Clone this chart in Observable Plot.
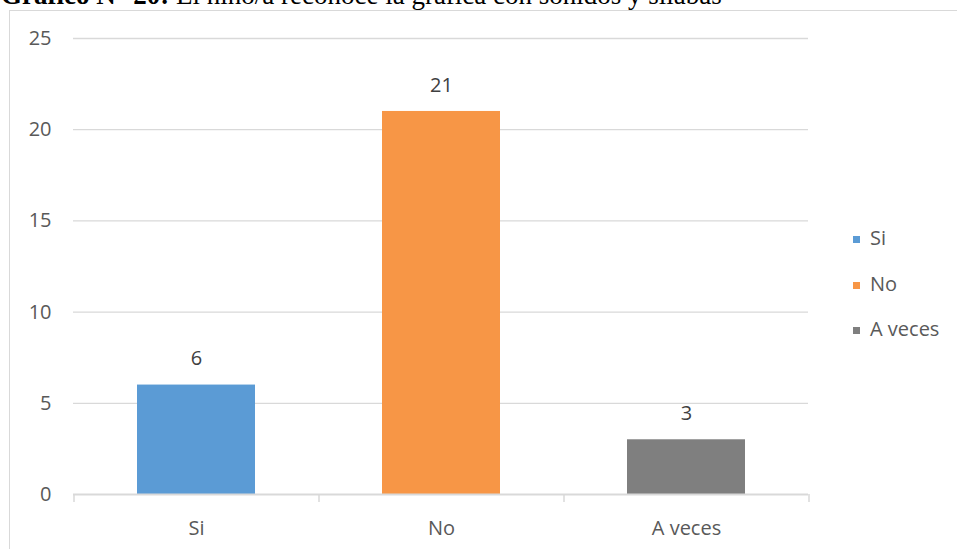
<!DOCTYPE html>
<html>
<head>
<meta charset="utf-8">
<script src="https://cdn.jsdelivr.net/npm/d3@7"></script>
<script src="https://cdn.jsdelivr.net/npm/@observablehq/plot@0.6"></script>
<style>
  html, body { margin: 0; padding: 0; background: #fff; overflow: hidden; }
  #wrap { position: relative; width: 957px; height: 549px; overflow: hidden; }
  #title { position: absolute; left: 1px; top: -18px; font-family: "Liberation Serif", "Times New Roman", serif; font-size: 27px; line-height: 27px; white-space: nowrap; color: #000; }
  #frame { position: absolute; left: 9px; top: 10px; width: 1200px; height: 800px; border-left: 1.5px solid #d9d9d9; border-top: 1.5px solid #d9d9d9; }
  #chart { position: absolute; left: 0; top: 0; }
  .leg { position: absolute; left: 853px; font-family: "Open Sans", sans-serif; font-size: 20px; color: #595959; white-space: nowrap; line-height: 20px; }
  .leg span.sw { position: absolute; left: 0; top: 6px; width: 7px; height: 7px; }
  .leg span.lb { position: absolute; left: 17px; top: -2px; }
</style>
</head>
<body>
<div id="wrap">
  <div id="frame"></div>
  <div id="chart"></div>
  <div id="title"><b>Gráfico N° 20:</b> El niño/a reconoce la gráfica con sonidos y sílabas</div>
  <div id="legend"></div>
</div>
<script>
const categories = ["Si", "No", "A veces"];
const values = [6, 21, 3];
const colors = ["#5b9bd5", "#f79646", "#7f7f7f"];
const yTicks = [0, 5, 10, 15, 20, 25];

const data = categories.map((c, i) => ({category: c, value: values[i]}));

const W = 957, H = 549;
const mL = 73, mR = 149, mT = 38, mB = 55;
const step = (W - mL - mR) / categories.length;

const chart = Plot.plot({
  width: W,
  height: H,
  marginLeft: mL,
  marginRight: mR,
  marginTop: mT,
  marginBottom: mB,
  style: {fontFamily: "'Open Sans', sans-serif", background: "transparent"},
  x: {domain: categories, paddingInner: 0.52, paddingOuter: 0.26, label: null},
  y: {domain: [0, 25], label: null},
  color: {domain: categories, range: colors},
  marks: [
    Plot.ruleY(yTicks.filter(d => d > 0), {stroke: "#d9d9d9", strokeWidth: 1.3}),
    Plot.barY(data, {x: "category", y: "value", fill: "category"}),
    Plot.ruleY([0], {stroke: "#d9d9d9", strokeWidth: 2}),
    Plot.ruleX(categories, {x: d => d, dx: -step / 2, y1: 0, y2: 0, insetBottom: -8, stroke: "#d9d9d9", strokeWidth: 1.5}),
    Plot.ruleX([categories[categories.length - 1]], {x: d => d, dx: step / 2, y1: 0, y2: 0, insetBottom: -8, stroke: "#d9d9d9", strokeWidth: 1.5}),
    Plot.text(data, {x: "category", y: "value", text: d => String(d.value), dy: -26, fontSize: 20, fill: "#404040"}),
    Plot.axisY({ticks: yTicks, tickSize: 0, tickPadding: 22, fontSize: 20, fill: "#595959", label: null}),
    Plot.axisX({tickSize: 0, tickPadding: 26, fontSize: 20, fill: "#595959", label: null})
  ]
});
document.getElementById("chart").appendChild(chart);

const legendTops = [230, 276, 321];
const legend = document.getElementById("legend");
categories.forEach((c, i) => {
  const d = document.createElement("div");
  d.className = "leg";
  d.style.top = legendTops[i] + "px";
  d.innerHTML = `<span class="sw" style="background:${colors[i]}"></span><span class="lb">${c}</span>`;
  legend.appendChild(d);
});
</script>
</body>
</html>
